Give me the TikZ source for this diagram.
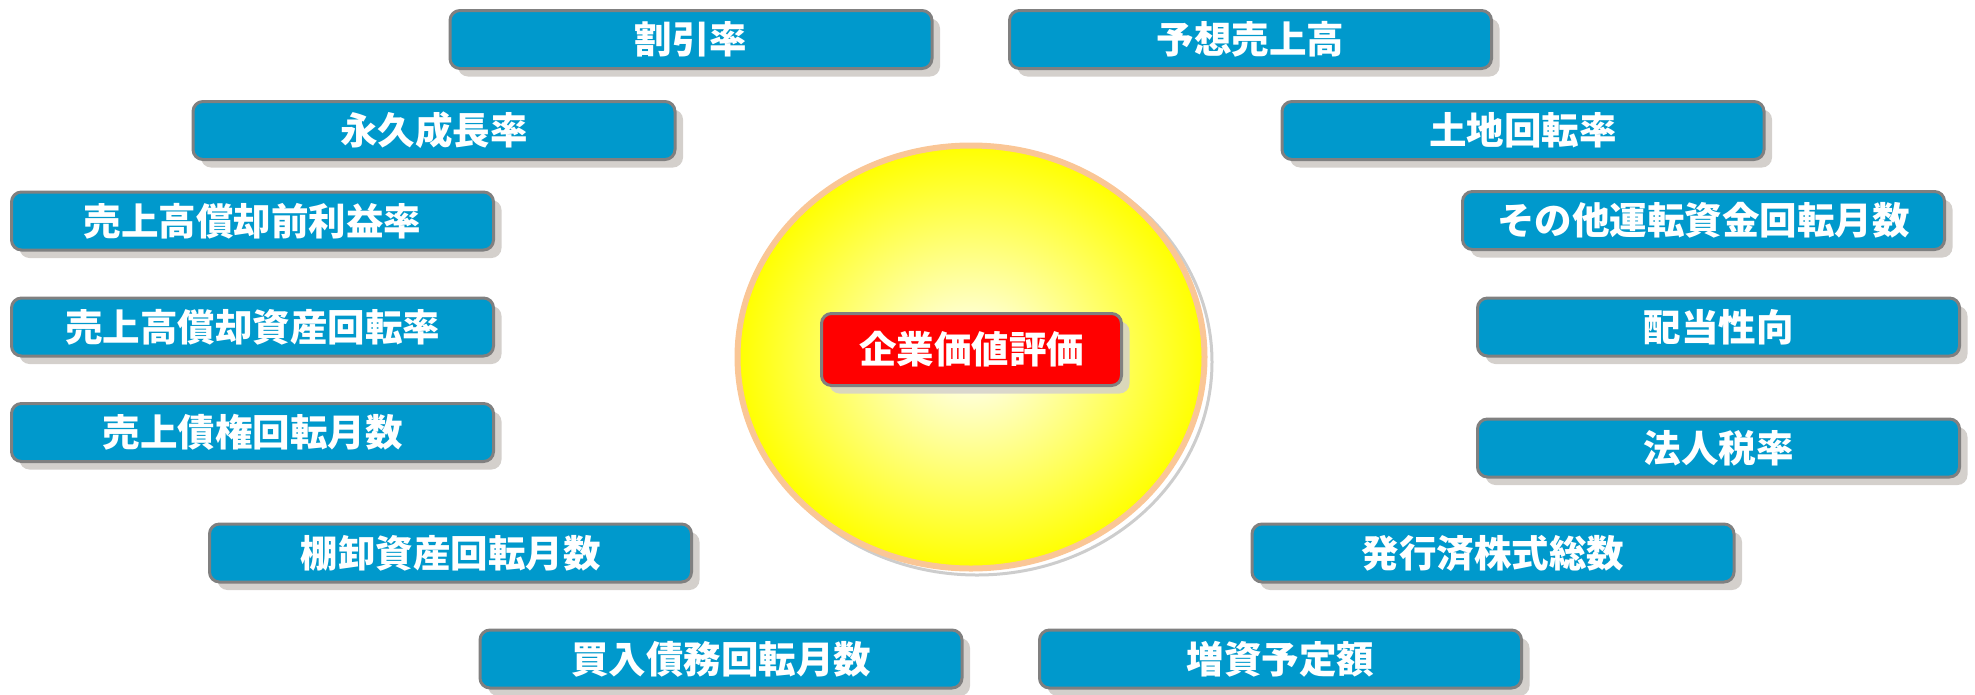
\documentclass[tikz,border=0pt]{standalone}
\usepackage{fontspec}
\newfontfamily\jp{Noto Sans CJK JP}
\usetikzlibrary{shapes.geometric,shadows}
\definecolor{boxblue}{RGB}{0,153,204}
\definecolor{boxedge}{RGB}{128,128,128}
\definecolor{shadowc}{RGB}{212,208,204}
\definecolor{peach}{RGB}{250,198,150}
\definecolor{ringgray}{RGB}{205,205,205}
\tikzset{
  lbl/.style={font=\jp\bfseries\fontsize{37.5}{40}\selectfont, text=white},
  itembox/.style={lbl, rounded corners=10pt, draw=boxedge, line width=3pt,
    fill=boxblue, minimum width=482pt, minimum height=58pt, inner sep=0pt,
    drop shadow={shadow xshift=8pt, shadow yshift=-8pt, fill=shadowc, opacity=1}},
  keybox/.style={lbl, rounded corners=10pt, draw=boxedge, line width=3pt,
    fill=red, minimum width=300pt, minimum height=72pt, inner sep=0pt,
    drop shadow={shadow xshift=8pt, shadow yshift=-8pt, fill=shadowc, opacity=0.85}},
}
\begin{document}
\begin{tikzpicture}[x=1pt,y=-1pt]
\useasboundingbox (0,0) rectangle (1975,694);
% central ball
\node[ellipse, draw=ringgray, line width=3pt, minimum width=470pt, minimum height=426pt, inner sep=0pt] (ring) at (977,362) {};
\node[ellipse, draw=peach, line width=6pt, inner color=white, outer color=yellow, minimum width=467pt, minimum height=423pt, inner sep=0pt] (ball) at (971,357) {};
\node[keybox] (key) at (971.5,349.5) {企業価値評価};
% items
\node[itembox] (a1) at (691,39.5) {割引率};
\node[itembox] (b1) at (1250.5,39.5) {予想売上高};
\node[itembox] (a2) at (434,130.5) {永久成長率};
\node[itembox] (b2) at (1523,130.5) {土地回転率};
\node[itembox] (a3) at (252.5,221) {売上高償却前利益率};
\node[itembox] (b3) at (1703.5,220.5) {その他運転資金回転月数};
\node[itembox] (a4) at (252.5,327) {売上高償却資産回転率};
\node[itembox] (b4) at (1718.5,327) {配当性向};
\node[itembox] (a5) at (252.5,432.5) {売上債権回転月数};
\node[itembox] (b5) at (1718.5,448) {法人税率};
\node[itembox] (a6) at (450.5,553) {棚卸資産回転月数};
\node[itembox] (b6) at (1493,553) {発行済株式総数};
\node[itembox] (a7) at (721,659) {買入債務回転月数};
\node[itembox] (b7) at (1280.5,659) {増資予定額};
\end{tikzpicture}
\end{document}
